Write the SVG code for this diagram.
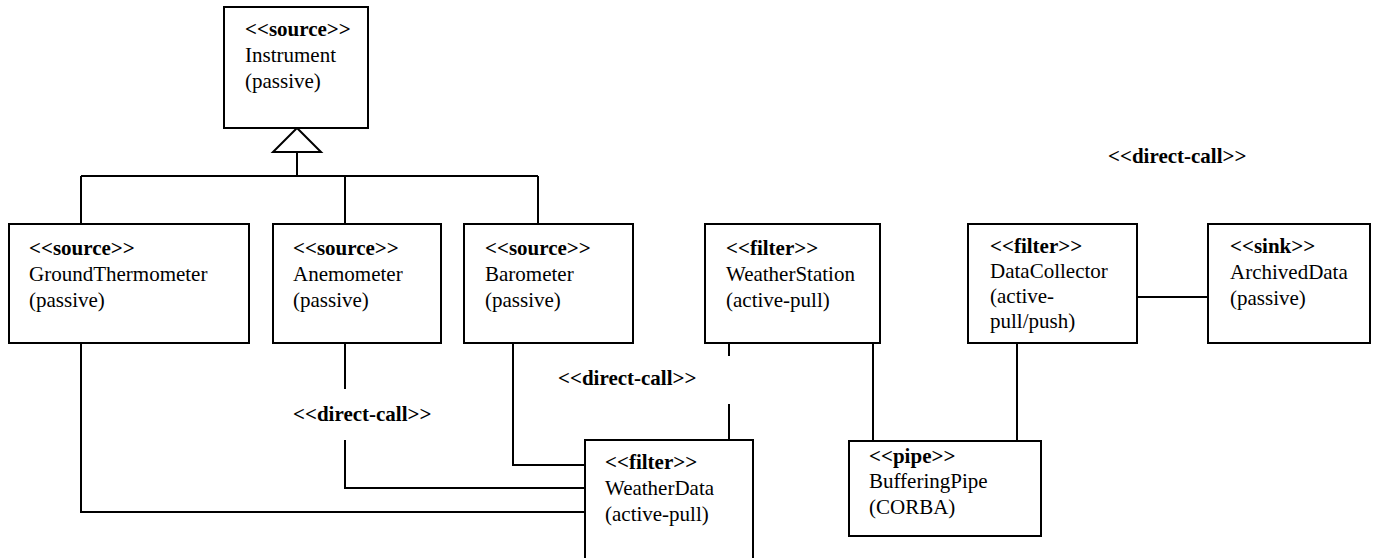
<svg xmlns="http://www.w3.org/2000/svg" width="1379" height="558" viewBox="0 0 1379 558">
<style>
.box{fill:#fff;stroke:#000;stroke-width:2}
.ln{fill:none;stroke:#000;stroke-width:2}
text{font-family:"Liberation Serif","Times New Roman",serif;font-size:21px;fill:#000}
.st{font-weight:bold}
</style>
<rect width="1379" height="558" fill="#fff"/>
<g id="connectors">
<polygon class="box" points="297,128 273,152 321,152"/>
<path class="ln" d="M297,152 V176 M81,176 H538 M81,176 V224 M345,176 V224 M538,176 V224"/>
<path class="ln" d="M81,343 V512 H585"/>
<path class="ln" d="M345,343 V389 M345,440 V488 H585"/>
<path class="ln" d="M513,343 V465 H585"/>
<path class="ln" d="M729,343 V356 M729,404 V440"/>
<path class="ln" d="M873,343 V441"/>
<path class="ln" d="M1017,343 V441"/>
<path class="ln" d="M1137,297 H1208"/>
<text class="st" x="1108" y="163">&lt;&lt;direct-call&gt;&gt;</text>
<text class="st" x="558" y="385">&lt;&lt;direct-call&gt;&gt;</text>
<text class="st" x="293" y="421">&lt;&lt;direct-call&gt;&gt;</text>
</g>
<g id="instrument">
<rect class="box" x="224" y="7" width="144" height="121"/>
<text x="245" y="36"><tspan class="st">&lt;&lt;source&gt;&gt;</tspan><tspan x="245" dy="26">Instrument</tspan><tspan x="245" dy="26">(passive)</tspan></text>
</g>
<g id="groundthermometer">
<rect class="box" x="9" y="224" width="240" height="119"/>
<text x="29" y="255"><tspan class="st">&lt;&lt;source&gt;&gt;</tspan><tspan x="29" dy="26">GroundThermometer</tspan><tspan x="29" dy="26">(passive)</tspan></text>
</g>
<g id="anemometer">
<rect class="box" x="273" y="224" width="168" height="119"/>
<text x="293" y="255"><tspan class="st">&lt;&lt;source&gt;&gt;</tspan><tspan x="293" dy="26">Anemometer</tspan><tspan x="293" dy="26">(passive)</tspan></text>
</g>
<g id="barometer">
<rect class="box" x="464" y="224" width="169" height="119"/>
<text x="485" y="255"><tspan class="st">&lt;&lt;source&gt;&gt;</tspan><tspan x="485" dy="26">Barometer</tspan><tspan x="485" dy="26">(passive)</tspan></text>
</g>
<g id="weatherstation">
<rect class="box" x="705" y="224" width="175" height="119"/>
<text x="726" y="255"><tspan class="st">&lt;&lt;filter&gt;&gt;</tspan><tspan x="726" dy="26">WeatherStation</tspan><tspan x="726" dy="26">(active-pull)</tspan></text>
</g>
<g id="datacollector">
<rect class="box" x="968" y="224" width="169" height="119"/>
<text x="990" y="253"><tspan class="st">&lt;&lt;filter&gt;&gt;</tspan><tspan x="990" dy="25">DataCollector</tspan><tspan x="990" dy="25">(active-</tspan><tspan x="990" dy="25">pull/push)</tspan></text>
</g>
<g id="archiveddata">
<rect class="box" x="1208" y="224" width="162" height="119"/>
<text x="1230" y="253"><tspan class="st">&lt;&lt;sink&gt;&gt;</tspan><tspan x="1230" dy="26">ArchivedData</tspan><tspan x="1230" dy="26">(passive)</tspan></text>
</g>
<g id="weatherdata">
<rect class="box" x="585" y="440" width="168" height="130"/>
<text x="605" y="469"><tspan class="st">&lt;&lt;filter&gt;&gt;</tspan><tspan x="605" dy="26">WeatherData</tspan><tspan x="605" dy="26">(active-pull)</tspan></text>
</g>
<g id="bufferingpipe">
<rect class="box" x="849" y="441" width="192" height="95"/>
<text x="869" y="463"><tspan class="st">&lt;&lt;pipe&gt;&gt;</tspan><tspan x="869" dy="25">BufferingPipe</tspan><tspan x="869" dy="26">(CORBA)</tspan></text>
</g>
</svg>
